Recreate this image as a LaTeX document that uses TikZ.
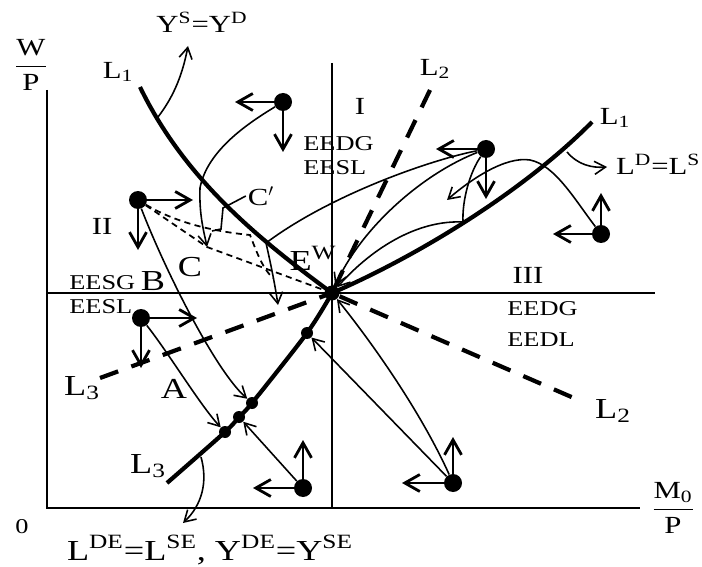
\documentclass[tikz,border=0pt]{standalone}
\usepackage{amsmath,fontspec}
\setmainfont{Liberation Serif}[FakeStretch=1.25]
\usetikzlibrary{arrows.meta}

\begin{document}
\begin{tikzpicture}[x=0.02cm,y=-0.02cm,
  every node/.style={font=\fontsize{14}{16}\selectfont,inner sep=1pt},
  biglbl/.style={font=\fontsize{16.5}{18}\selectfont},
  region/.style={font=\fontsize{12}{13}\selectfont,inner sep=0pt},
  bigdot/.style={circle,fill,inner sep=0pt,minimum size=3.6mm},
  smalldot/.style={circle,fill,inner sep=0pt,minimum size=2.4mm},
  dirarrow/.style={line width=1.6pt,-{Straight Barb[length=3mm,width=3.4mm]}},
  traj/.style={line width=0.9pt,-{Straight Barb[length=2.2mm,width=2.6mm]}},
  trajdash/.style={line width=1pt,dash pattern=on 3.5pt off 2.5pt},
  locus/.style={line width=2.4pt},
  locusdash/.style={line width=2.4pt,dash pattern=on 11pt off 8pt}]
\useasboundingbox (0,0) rectangle (702,567);
% axes and the two lines through E^W
\draw[line width=1.1pt] (47,90) -- (47,508) -- (640,508);
\draw[line width=0.7pt] (332,63) -- (332,508);
\draw[line width=0.7pt] (47,293) -- (655,293);
\node[smalldot,minimum size=3mm] (E) at (332,293) {};
% the loci L1, L2, L3
\coordinate (l1a) at (140,87); \coordinate (l1b) at (592,122);
\coordinate (l2a) at (430,90); \coordinate (l2b) at (583,402);
\coordinate (l3a) at (100,378); \coordinate (l3b) at (167,483);
\node[smalldot] (s1) at (307,333) {};
\node[smalldot] (s2) at (252,403) {};
\node[smalldot] (s3) at (239,417) {};
\node[smalldot] (s4) at (225,432) {};
\draw[locus] (l1a) .. controls (185,180) and (260,240) .. (E.center) .. controls (420,255) and (525,190) .. (l1b);
\draw[locusdash] (l2a) -- (E.center) -- (l2b);
\draw[locusdash] (l3a) -- (E.center);
\draw[locus] plot[smooth] coordinates {(E.center) (s1.center) (s2.center) (s3.center) (s4.center) (l3b)};
% starting points and their pushes
\node[bigdot] (d1) at (283,102) {}; \coordinate (d1h) at (235,102); \coordinate (d1v) at (283,152);
\node[bigdot] (d2) at (138,200) {}; \coordinate (d2h) at (193,200); \coordinate (d2v) at (138,250);
\node[bigdot] (d3) at (486,149) {}; \coordinate (d3h) at (436,149); \coordinate (d3v) at (486,199);
\node[bigdot] (d4) at (601,234) {}; \coordinate (d4h) at (553,234); \coordinate (d4v) at (601,193);
\node[bigdot] (d5) at (141,318) {}; \coordinate (d5h) at (197,318); \coordinate (d5v) at (141,368);
\node[bigdot] (d6) at (303,488) {}; \coordinate (d6h) at (253,488); \coordinate (d6v) at (303,440);
\node[bigdot] (d7) at (453,483) {}; \coordinate (d7h) at (402,483); \coordinate (d7v) at (453,437);
\path (d1) edge[dirarrow] (d1h) edge[dirarrow] (d1v)
      (d2) edge[dirarrow] (d2h) edge[dirarrow] (d2v)
      (d3) edge[dirarrow] (d3h) edge[dirarrow] (d3v)
      (d4) edge[dirarrow] (d4h) edge[dirarrow] (d4v)
      (d5) edge[dirarrow] (d5h) edge[dirarrow] (d5v)
      (d6) edge[dirarrow] (d6h) edge[dirarrow] (d6v)
      (d7) edge[dirarrow] (d7h) edge[dirarrow] (d7v);
% paths of adjustment
\coordinate (C) at (207,247); \coordinate (cx) at (266,243); \coordinate (ex) at (278,305);
\coordinate (q3) at (463,222); \coordinate (top4) at (530,160); \coordinate (end4) at (447,200);
\coordinate (cp) at (250,235); \coordinate (cq) at (273,278);
\draw[traj] (d1) .. controls (250,122) and (207,150) .. (200,188) .. controls (199,215) and (204,232) .. (C);
\draw[traj] (d3) .. controls (430,160) and (330,195) .. (cx) .. controls (271,265) and (275,285) .. (ex);
\draw[traj] (d3) .. controls (420,175) and (360,230) .. (E);
\draw[traj] (d3) .. controls (470,172) and (462,200) .. (q3) .. controls (420,220) and (375,245) .. (E);
\draw[traj] (d4) .. controls (575,200) and (555,165) .. (top4) .. controls (505,156) and (470,180) .. (end4);
\draw[traj] (d2) .. controls (165,270) and (215,370) .. (s2);
\draw[traj] (d5) .. controls (170,355) and (200,405) .. (s4);
\draw[traj] (d6) -- (s3);
\draw[traj] (d7) -- (s1);
\draw[traj] (d7) .. controls (420,410) and (370,340) .. (E);
\draw[trajdash] (d2) -- (C) -- (E);
\draw[trajdash] (d2) .. controls (180,225) and (220,232) .. (cp) .. controls (256,250) and (262,268) .. (cq);
% labels
\node (wp) at (31,65) {\(\dfrac{\text{W}}{\text{P}}\)};
\node (mp) at (673,508) {\(\dfrac{\text{M\textsubscript{0}}}{\text{P}}\)};
\node[region] (zero) at (22,527) {0};
\node (l1lbl) at (118,72) {L\textsubscript{1}};
\node (l1rlbl) at (615,118) {L\textsubscript{1}};
\node (l2lbl) at (435,69) {L\textsubscript{2}};
\node[biglbl] (l2rlbl) at (613,411) {L\textsubscript{2}};
\node[biglbl] (l3lbl) at (82,388) {L\textsubscript{3}};
\node[biglbl] (l3rlbl) at (148,466) {L\textsubscript{3}};
\node (ys) at (202,22) {Y\textsuperscript{S}=Y\textsuperscript{D}};
\coordinate (ysfoot) at (158,117); \coordinate (ystip) at (188,46);
\draw[traj] (ysfoot) .. controls (175,95) and (183,72) .. (ystip);
\node[anchor=west] (ld) at (614,164) {L\textsuperscript{D}=L\textsuperscript{S}};
\coordinate (ldfoot) at (567,152); \coordinate (ldtip) at (607,167);
\draw[traj] (ldfoot) .. controls (578,165) and (592,168) .. (ldtip);
\node[biglbl] (lde) at (210,550) {L\textsuperscript{DE}=L\textsuperscript{SE}, Y\textsuperscript{DE}=Y\textsuperscript{SE}};
\coordinate (ldefoot) at (201,457); \coordinate (ldetip) at (183,523);
\draw[traj] (ldefoot) .. controls (208,482) and (202,505) .. (ldetip);
\node (rI) at (360,106) {I};
\node (rII) at (102,226) {II};
\node (rIII) at (528,275) {III};
\node[region,anchor=west] (r1a) at (303,144) {EEDG};
\node[region,anchor=west] (r1b) at (303,168) {EESL};
\node[region,anchor=west] (r2a) at (69,283) {EESG};
\node[region,anchor=west] (r2b) at (69,307) {EESL};
\node[region,anchor=west] (r3a) at (507,309) {EEDG};
\node[region,anchor=west] (r3b) at (507,340) {EEDL};
\node[biglbl] (lEW) at (313,258) {E\textsuperscript{W}};
\node[biglbl] (lB) at (153,281) {B};
\node[biglbl] (lC) at (190,267) {C};
\node[biglbl] (lA) at (174,389) {A};
\node (lCp) at (261,196) {C$'$};
\draw[line width=0.9pt] (lCp.west) -- (223,208) -- (221,229) -- (212,231);
\end{tikzpicture}
\end{document}
